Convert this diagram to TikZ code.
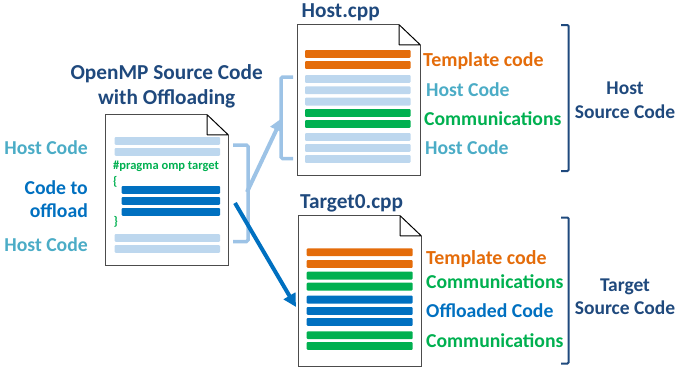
\documentclass[tikz,border=0pt]{standalone}
\usepackage{fontspec}
\setmainfont{Carlito}
\usetikzlibrary{calc,arrows.meta}
\definecolor{titleblue}{HTML}{1F497D}
\definecolor{hostcyan}{HTML}{4BACC6}
\definecolor{offblue}{HTML}{0070C0}
\definecolor{commgreen}{HTML}{00B050}
\definecolor{templorange}{HTML}{E46C0A}
\definecolor{barlight}{HTML}{BDD7EE}
\definecolor{bracelight}{HTML}{9DC3E6}
\tikzset{
	label/.style={font=\fontsize{#1}{#1}\selectfont\bfseries, inner sep=0pt, anchor=base west},
	label/.default=19.7,
	sheet/.style={minimum width=122pt, minimum height=150pt, inner sep=0pt},
	brace/.style={line width=3.5pt, color=bracelight, rounded corners=1.5pt},
	bigbrace/.style={line width=2pt, color=titleblue, rounded corners=1pt},
}
% page with a folded corner
\def\docsheet(#1)(#2,#3){
	\node[sheet] (#1) at (#2, #3) {};
	\draw[line width=1pt, color=black!70] ($(#1.north east)+(-21, 0)$) -- (#1.north west) -- (#1.south west) -- (#1.south east) -- ($(#1.north east)+(0, 20)$);
	\draw[line width=1pt, line join=round] ($(#1.north east)+(-21, 0)$) -- ($(#1.north east)+(0, 20)$) -- ($(#1.north east)+(-21, 20)$) -- cycle;
}
% code lines, given by their top edges
\def\codebars[#1](#2:#3)(#4){
	\foreach \ytop in {#4}
		\fill[#1, rounded corners=1pt] (#2, \ytop) rectangle (#3, \ytop+7.8);
}

\begin{document}
\begin{tikzpicture}[x=1pt, y=-1pt]
		\useasboundingbox (0, 0) rectangle (676, 372);
		
		%%%%% source file %%%%%
		\docsheet(srcdoc)(167, 190)
		\codebars[barlight](114.7:220)(137, 148, 234, 245)
		\codebars[offblue](121.7:220)(186, 197, 208)
		\node[label=21.3, color=titleblue, anchor=center, align=center] (srctitle) at (166.7, 86.5) {OpenMP Source Code\\[4pt]with Offloading};
		\node[label, color=hostcyan, anchor=east] (srchostA) at (88, 147.5) {Host Code};
		\node[label, color=offblue, anchor=east, align=right] (srcoffload) at (88, 199.5) {Code to\\[3.5pt]offload};
		\node[label, color=hostcyan, anchor=east] (srchostB) at (88, 244.5) {Host Code};
		\node[label=12.5, color=commgreen, anchor=west] (srcpragma) at (113, 166) {\#pragma omp target};
		\node[label=12.5, color=commgreen, anchor=west] (srcopen) at (113, 182) {\{};
		\node[label=12.5, color=commgreen, anchor=west] (srcclose) at (113.5, 222) {\}};
		
		%%%%% host file %%%%%
		\docsheet(hostdoc)(359, 100)
		\codebars[templorange](305:410.5)(50, 61)
		\codebars[barlight](305:410.5)(75, 86.3, 97.7, 133, 144, 155)
		\codebars[commgreen](305:410.5)(109, 120)
		\node[label=21.3, color=titleblue, anchor=west] (hosttitle) at (301.5, 12) {Host.cpp};
		\node[label=19.9, color=templorange, anchor=west] (hosttempl) at (423, 61.5) {Template code};
		\node[label, color=hostcyan, anchor=west] (hosthostA) at (426, 89.5) {Host Code};
		\node[label, color=commgreen, anchor=west] (hostcomm) at (424, 118.5) {Communications};
		\node[label, color=hostcyan, anchor=west] (hosthostB) at (425, 148) {Host Code};
		
		%%%%% target file %%%%%
		\docsheet(targetdoc)(360, 291)
		\codebars[templorange](306.7:412.7)(248.3, 260)
		\codebars[commgreen](306.7:412.7)(271.7, 282.7, 331.3, 342)
		\codebars[offblue](306.7:412.7)(295.7, 307, 318)
		\node[label=21.3, color=titleblue, anchor=west] (targettitle) at (300, 203) {Target0.cpp};
		\node[label=19.9, color=templorange, anchor=west] (targettempl) at (426, 259) {Template code};
		\node[label, color=commgreen, anchor=west] (targetcommA) at (426, 281.5) {Communications};
		\node[label, color=offblue, anchor=west] (targetoff) at (426, 310.5) {Offloaded Code};
		\node[label, color=commgreen, anchor=west] (targetcommB) at (426, 340.5) {Communications};
		
		%%%%% brackets %%%%%
		\draw[brace] (233, 145) -- (248, 145) -- (248, 241.5) -- (233, 241.5);
		\draw[brace] (293, 77) -- (281, 77) -- (281, 158.5) -- (293, 158.5);
		\draw[bigbrace] (561, 25) -- (568.5, 25) -- (568.5, 171) -- (561, 171);
		\draw[bigbrace] (561, 217.5) -- (568.5, 217.5) -- (568.5, 363.5) -- (561, 363.5);
		\node[label=19.5, color=titleblue, anchor=center, align=center] (hostside) at (625, 100) {Host\\[4.5pt]Source Code};
		\node[label=19.5, color=titleblue, anchor=center, align=center] (targetside) at (625, 296.5) {Target\\[3.5pt]Source Code};
		
		%%%%% arrows %%%%%
		\coordinate (srcbrace) at (247, 192);
		\coordinate (hostbrace) at (282, 118);
		\coordinate (offstart) at (235, 203);
		\coordinate (targetin) at (296, 307);
		\draw[-{Triangle[length=13pt, width=13pt]}, line width=4pt, color=bracelight] (srcbrace) -- (hostbrace);
		\draw[-{Triangle[length=13pt, width=13pt]}, line width=4pt, color=offblue] (offstart) -- (targetin);
	\end{tikzpicture}
\end{document}
